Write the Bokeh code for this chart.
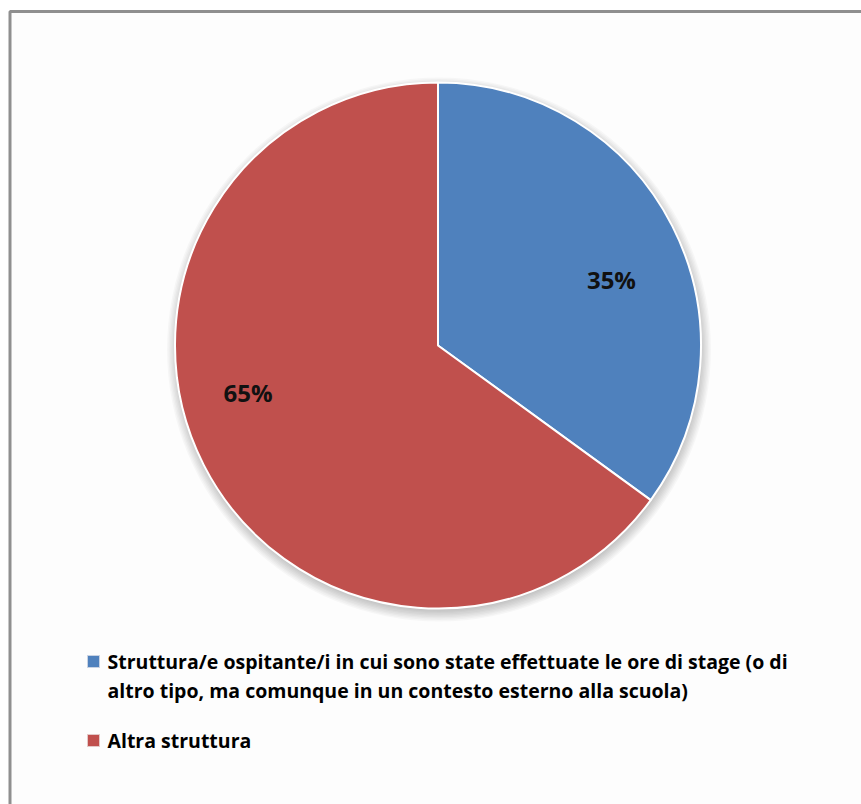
import math
from bokeh.plotting import figure
from bokeh.models import Range1d
from bokeh.core.properties import value
from bokeh.embed import file_html
from bokeh.resources import INLINE

# ---- data ----
categories = [
    "Struttura/e ospitante/i in cui sono state  effettuate le ore di stage (o di\naltro tipo, ma comunque in un contesto esterno alla scuola)",
    "Altra struttura",
]
shares = [35, 65]
pct_labels = ["35%", "65%"]
colors = ["#4F81BD", "#C0504D"]

# ---- layout / style ----
W, H = 861, 804
CX, CY, R = 437.5, H - 345, 263
label_angle_shift = [-6.3, -13.1]      # degrees, data-label placement tweak
label_radius_frac = [0.705, 0.744]
FONT = "Open Sans"

p = figure(width=W, height=H, x_range=Range1d(0, W), y_range=Range1d(0, H),
           min_border=0, toolbar_location=None, output_backend="svg")
p.axis.visible = False
p.grid.visible = False
p.outline_line_color = None
p.background_fill_color = "#ffffff"
p.border_fill_color = "#ffffff"

# chart area frame (only top and left edges visible in the window)
p.quad(left=9.5, right=W + 50, top=H - 11, bottom=-50,
       fill_color="#fdfdfd", line_color="#8f8f8f", line_width=3)

# soft shadow under the pie
for k in range(9):
    p.circle(x=CX + 1, y=CY - 4, radius=R + 9 - k * 1.4,
             fill_color="black", fill_alpha=0.028, line_color=None)

# pie slices
total = float(sum(shares))
start = math.pi / 2
starts, ends, mids = [], [], []
for s in shares:
    ang = s / total * 2 * math.pi
    starts.append(start)
    ends.append(start - ang)
    mids.append(start - ang / 2)
    start -= ang

p.wedge(x=CX, y=CY, radius=R, start_angle=starts, end_angle=ends,
        direction="clock", fill_color=colors, line_color="white", line_width=2)

# data labels
lx, ly = [], []
for i, m in enumerate(mids):
    a = m + math.radians(label_angle_shift[i])
    r = R * label_radius_frac[i]
    lx.append(CX + r * math.cos(a))
    ly.append(CY + r * math.sin(a))
p.text(x=lx, y=ly, text=pct_labels, text_align="center", text_baseline="middle",
       text_font=value(FONT), text_font_size="24px", text_font_style="bold",
       text_color="#111111")

# legend
leg_x_marker, leg_x_text = 93, 107
line_h = 29
item_gap = 50
y = H - 661
for i, lab in enumerate(categories):
    lines = lab.split("\n")
    p.scatter(x=[leg_x_marker], y=[y], marker="square", size=12,
              fill_color=colors[i], line_color="#c9d3e3" if i == 0 else "#e3c9c8",
              line_width=1)
    for j, t in enumerate(lines):
        p.text(x=[leg_x_text], y=[y - j * line_h], text=[t], text_align="left",
               text_baseline="middle", text_font=value(FONT),
               text_font_size="19.5px", text_font_style="bold",
               text_color="#000000")
    y -= (len(lines) - 1) * line_h + item_gap

open("out.html", "w").write(file_html(p, INLINE))
